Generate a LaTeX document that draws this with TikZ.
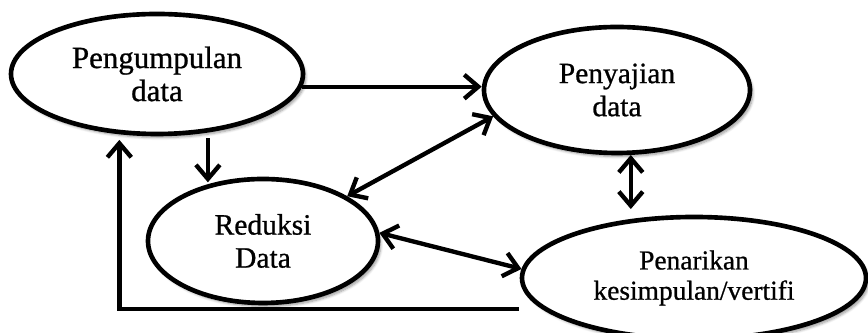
\documentclass[tikz,border=0pt]{standalone}
\usepackage{fontspec}
\setmainfont[FakeBold=0.8]{Liberation Serif}
\usetikzlibrary{shapes.geometric,arrows.meta,shadows.blur}

\begin{document}
\begin{tikzpicture}[
  tahap/.style={ellipse, draw=black, line width=3.3pt, fill=white, inner sep=0pt, align=center,
    font=\fontsize{21}{23.5}\selectfont,
    blur shadow={shadow xshift=2pt, shadow yshift=-2.5pt, shadow blur steps=6, shadow opacity=40}},
  panah/.style={line width=3.1pt, -{Straight Barb[length=10pt,width=17pt]}},
  duapanah/.style={line width=3.1pt, {Straight Barb[length=10pt,width=17pt]}-{Straight Barb[length=10pt,width=17pt]}}
]
\useasboundingbox (0,0) rectangle (21.7,8.325);

\node [tahap, minimum width=7.3cm, minimum height=3cm, font=\fontsize{22}{23.5}\selectfont] (pengumpulan) at (3.925,6.475) {Pengumpulan\\data};
\node [tahap, minimum width=6.65cm, minimum height=3.15cm] (penyajian) at (15.425,6.075) {Penyajian\\data};
\node [tahap, minimum width=5.75cm, minimum height=3.1cm] (reduksi) at (6.575,2.3) {Reduksi\\Data};
\node [tahap, minimum width=8.6cm, minimum height=3.05cm, font=\fontsize{19.5}{21.5}\selectfont] (penarikan) at (17.35,1.375) {Penarikan\\kesimpulan/vertifi};

\coordinate (balik) at (12.975,0.6);

\draw [panah] (pengumpulan.355) -- (pengumpulan.355 -| penyajian.west);
\draw [panah, shorten <=4pt, shorten >=-4pt] (pengumpulan.311) -- (pengumpulan.311 |- reduksi.north);
\draw [duapanah] (reduksi.28) -- (penyajian.192);
\draw [duapanah, shorten >=4pt] (penyajian.282) -- (penyajian.282 |- penarikan.north);
\draw [duapanah] (reduksi.4) -- (penarikan.177);
\draw [panah, shorten >=4pt] (balik) -| (pengumpulan.238);
\end{tikzpicture}
\end{document}
